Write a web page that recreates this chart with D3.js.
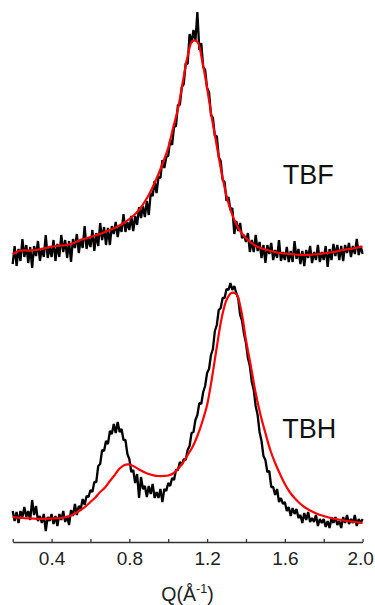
<!DOCTYPE html>
<html>
<head>
<meta charset="utf-8">
<script src="https://cdn.jsdelivr.net/npm/d3@7"></script>
<style>
  body { margin: 0; background: #fff; }
  svg { display: block; }
</style>
</head>
<body>
<div id="chart"></div>
<script>
// measured traces are sampled every 0.01 in Q, fits every 0.025
const qStart = 0.2;
const qStep = 0.01;
const fitStep = 0.025;

// intensity, arbitrary units (TBF already shifted up)
const tbfTrace = [
  278, 296, 276, 293, 281, 303, 285, 297, 279, 295,
  274, 296, 286, 301, 281, 294, 285, 307, 284, 295,
  285, 302, 281, 298, 285, 307, 290, 302, 284, 301,
  280, 303, 294, 308, 289, 303, 294, 316, 293, 304,
  295, 312, 291, 309, 296, 319, 302, 315, 297, 314,
  297, 316, 308, 320, 305, 317, 310, 328, 310, 320,
  312, 326, 311, 326, 317, 335, 324, 336, 325, 341,
  327, 349, 346, 361, 349, 365, 364, 382, 374, 385,
  386, 402, 397, 415, 416, 437, 437, 455, 458, 479,
  478, 508, 499, 512, 501, 530, 492, 499, 475, 472,
  454, 450, 427, 424, 406, 406, 385, 381, 362, 360,
  341, 345, 332, 334, 308, 321, 311, 319, 304, 307,
  300, 309, 290, 302, 290, 307, 291, 300, 284, 297,
  279, 297, 288, 299, 282, 292, 284, 302, 281, 290,
  282, 295, 280, 291, 280, 301, 283, 293, 278, 291,
  276, 292, 284, 296, 279, 290, 282, 297, 280, 290,
  282, 296, 275, 293, 282, 298, 286, 297, 282, 296,
  281, 297, 289, 299, 285, 296, 288, 303, 287, 296,
  288
];

const tbhTrace = [
  31, 21, 30, 19, 31, 25, 35, 25, 31, 22,
  42, 27, 36, 21, 26, 19, 28, 11, 25, 21,
  28, 18, 26, 16, 28, 22, 31, 20, 26, 17,
  32, 26, 38, 27, 36, 33, 43, 37, 46, 45,
  52, 50, 60, 60, 76, 78, 92, 91, 101, 98,
  111, 108, 118, 109, 120, 110, 113, 102, 102, 88,
  83, 70, 72, 59, 68, 44, 65, 53, 56, 45,
  56, 48, 58, 44, 50, 44, 53, 40, 53, 51,
  59, 56, 64, 62, 72, 72, 80, 77, 83, 82,
  92, 96, 109, 110, 122, 127, 139, 138, 150, 156,
  169, 173, 187, 193, 211, 217, 232, 234, 244, 244,
  253, 252, 259, 252, 256, 249, 244, 227, 221, 208,
  199, 184, 176, 160, 152, 136, 127, 110, 101, 86,
  82, 70, 71, 55, 55, 47, 53, 40, 44, 38,
  40, 31, 35, 26, 34, 28, 33, 24, 27, 19,
  29, 22, 30, 20, 24, 20, 27, 16, 23, 19,
  23, 15, 21, 14, 24, 19, 25, 17, 21, 14,
  25, 19, 27, 18, 23, 19, 27, 16, 23, 19,
  23
];

const tbfFit = [
  288, 290.5, 291.5, 291.5, 291.5, 292.2, 293, 294.2, 295.3, 296,
  296.5, 297, 298, 300, 302, 303.5, 305, 306.5, 308, 310,
  312, 314, 316.5, 319.5, 323, 327, 332, 339, 347, 357,
  368, 380.5, 394, 414, 433, 460, 486, 501, 500, 481,
  454, 423.5, 396, 369, 346, 329.5, 318, 309.5, 304, 299.5,
  296, 294, 292.5, 291, 290, 289, 288.5, 288, 287.5, 287.2,
  287, 287.2, 287.5, 288, 288.7, 289.3, 290, 291, 292, 292.8,
  293.5, 294.5, 295.5
];

const tbhFit = [
  25, 24.5, 24, 23.7, 23.5, 23.2, 23, 23.2, 23.5, 23.7,
  24, 25, 26.5, 29, 32, 35.5, 40, 44.5, 50, 54.5,
  61, 67, 73.5, 77, 77.5, 75.5, 72.5, 70, 68, 66.7,
  66, 66, 66.5, 68.5, 73, 79, 87, 95, 106, 120,
  137, 164, 195, 224, 242, 249, 248, 232, 202, 176,
  149, 127, 109, 92, 79, 68, 58, 50, 44, 39,
  35, 32, 29.5, 27.5, 26, 24.5, 23.5, 22.5, 21.7, 21,
  20.3, 19.7, 19
];

const xTicks = [0.2, 0.4, 0.6, 0.8, 1.0, 1.2, 1.4, 1.6, 1.8, 2.0];
const xLabelled = [0.4, 0.8, 1.2, 1.6, 2.0];

const width = 375, height = 605;
const font = "'Liberation Sans', Arial, sans-serif";

const svg = d3.select("#chart")
  .append("svg")
  .attr("width", width)
  .attr("height", height);

const x = d3.scaleLinear()
  .domain([0.2, 2.0])
  .range([12.7, 362.6]);

const y = d3.scaleLinear()
  .domain([0, 542])
  .range([542, 0]);

const traceLine = d3.line()
  .x((d, i) => x(qStart + i * qStep))
  .y(d => y(d));

const fitLine = d3.line()
  .x((d, i) => x(qStart + i * fitStep))
  .y(d => y(d))
  .curve(d3.curveCatmullRom);

// noisy data first, fits on top
[tbfTrace, tbhTrace].forEach(tr => {
  svg.append("path")
    .attr("fill", "none")
    .attr("stroke", "#000")
    .attr("stroke-width", 2.3)
    .attr("stroke-linejoin", "bevel")
    .attr("d", traceLine(tr));
});

[tbfFit, tbhFit].forEach(f => {
  svg.append("path")
    .attr("fill", "none")
    .attr("stroke", "#ff0000")
    .attr("stroke-width", 2.2)
    .attr("d", fitLine(f));
});

// sample names
const names = [
  { name: "TBF", q: 1.72, v: 358 },
  { name: "TBH", q: 1.725, v: 104 }
];
svg.selectAll(".name")
  .data(names)
  .enter()
  .append("text")
  .attr("class", "name")
  .attr("x", d => x(d.q))
  .attr("y", d => y(d.v))
  .attr("text-anchor", "middle")
  .style("font-family", font)
  .style("font-size", "27px")
  .style("fill", "#111")
  .text(d => d.name);

// x axis, ticks pointing in
const xAxis = svg.append("g")
  .attr("transform", "translate(0,542)")
  .call(d3.axisBottom(x)
    .tickValues(xTicks)
    .tickSize(-3)
    .tickSizeOuter(0)
    .tickPadding(10)
    .tickFormat(d => xLabelled.some(v => Math.abs(v - d) < 1e-6) ? d.toFixed(1) : ""));

xAxis.select(".domain").attr("stroke", "#333").attr("stroke-width", 1.3);
xAxis.selectAll(".tick line").attr("stroke", "#333").attr("stroke-width", 1.3);
xAxis.selectAll(".tick text")
  .style("font-family", font)
  .style("font-size", "19px")
  .style("fill", "#222")
  // last label sits right on the page edge
  .attr("dx", d => d === 2.0 ? -2.5 : 0);

const title = svg.append("text")
  .attr("x", 187.5)
  .attr("y", 600.5)
  .attr("text-anchor", "middle")
  .style("font-family", font)
  .style("font-size", "19.5px")
  .style("fill", "#222");
title.append("tspan").text("Q(Å");
title.append("tspan").attr("dy", -8).style("font-size", "12.5px").text("-1");
title.append("tspan").attr("dy", 8).text(")");
</script>
</body>
</html>
